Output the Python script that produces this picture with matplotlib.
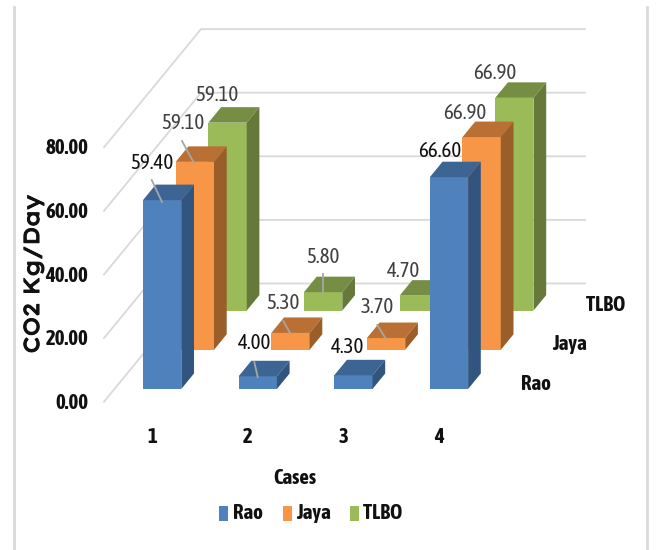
import matplotlib
matplotlib.use('Agg')
import matplotlib.pyplot as plt
import matplotlib.patheffects as pe
from matplotlib.patches import Polygon, Rectangle

cases = ['1', '2', '3', '4']
series = ['Rao', 'Jaya', 'TLBO']
rao = [59.40, 4.00, 4.30, 66.60]
jaya = [59.10, 5.30, 3.70, 66.90]
tlbo = [59.10, 5.80, 4.70, 66.90]
y_ticks = [0, 20, 40, 60, 80]

front = ['#4F81BD', '#F79646', '#9BBB59']
top = ['#3D6594', '#BA7035', '#758E44']
side = ['#325580', '#9A5E2B', '#66793A']
values = [rao, jaya, tlbo]

# oblique projection, in pixels of the 656x550 figure
BASE_X, BASE_Y = 143.0, 389.0
CASE_STEP = 95.6
ROW_DX, ROW_DY = 32.7, 39.2
BAR_W = 38.3
BAR_DX, BAR_DY = 12.7, 15.5
PX_PER_UNIT = 3.18

FONT = ['Asap Condensed', 'Lato', 'DejaVu Sans']
WIDE_FONT = ['Lexend Exa', 'DejaVu Sans']
DARK = '#111111'
GREY = '#404040'
GRID = '#d9d9d9'

fig = plt.figure(figsize=(6.56, 5.5), dpi=100)
ax = fig.add_axes([0, 0, 1, 1])
ax.set_xlim(0, 656)
ax.set_ylim(550, 0)
ax.axis('off')


def project(case, row, value):
    x = BASE_X + case * CASE_STEP + row * ROW_DX
    y = BASE_Y - row * ROW_DY - value * PX_PER_UNIT
    return x, y


def draw_bar(case, row, value):
    x, y0 = project(case, row, 0)
    _, y1 = project(case, row, value)
    ax.add_patch(Polygon([(x, y0), (x + BAR_W, y0), (x + BAR_W, y1), (x, y1)],
                         fc=front[row], ec='none', zorder=3))
    ax.add_patch(Polygon([(x, y1), (x + BAR_W, y1),
                          (x + BAR_W + BAR_DX, y1 - BAR_DY), (x + BAR_DX, y1 - BAR_DY)],
                         fc=top[row], ec='none', zorder=3))
    ax.add_patch(Polygon([(x + BAR_W, y0), (x + BAR_W + BAR_DX, y0 - BAR_DY),
                          (x + BAR_W + BAR_DX, y1 - BAR_DY), (x + BAR_W, y1)],
                         fc=side[row], ec='none', zorder=3))


# chart frame, sides only
ax.plot([14, 14], [7, 550], color='#d9d9d9', lw=2, zorder=1)
ax.plot([647, 647], [7, 550], color='#d9d9d9', lw=2, zorder=1)

# side wall and back wall grid
for t in y_ticks:
    y_front = 401.7 - t * PX_PER_UNIT
    y_back = 283.5 - t * PX_PER_UNIT
    ax.plot([104, 201, 585], [y_front, y_back, y_back], color=GRID, lw=1.3, zorder=1)
    ax.text(88, y_front + 1, '%.2f' % t, ha='right', va='center', family=FONT,
            fontsize=15, fontweight='bold', color=DARK)

# back row first so nearer bars cover it
for row in [2, 1, 0]:
    for case in range(len(cases)):
        draw_bar(case, row, values[row][case])

# value labels, Rao row in darker text
label_pos = [
    [(152, 163), (254.5, 343), (348, 347), (440, 151)],
    [(183, 123), (283, 303), (377.5, 307), (465, 113)],
    [(217, 95), (323, 257), (404, 271), (494.7, 73)],
]
for row in range(3):
    for case in range(4):
        px, py = label_pos[row][case]
        ax.text(px, py, '%.2f' % values[row][case], ha='center', va='center',
                family=FONT, fontsize=15, color=DARK if row == 0 else GREY, zorder=6)

# leader lines
leaders = [
    ((151.7, 180), (162, 202)), ((182, 141), (194, 163)),
    ((254.3, 362), (257.7, 377)), ((283.3, 321), (290, 333)),
    ((323.3, 274), (323.3, 292)), ((377.3, 325), (386, 339)),
]
for a, b in leaders:
    ax.plot([a[0], b[0]], [a[1], b[1]], color='#a6a6a6', lw=1.3, zorder=5)

# case and row labels
for i, c in enumerate(cases):
    ax.text(152.5 + i * 95.5, 437, c, ha='center', va='center', family=FONT,
            fontsize=15, fontweight='bold', color=DARK)
row_label_pos = [(536, 384), (570, 344), (606, 305)]
for name, (px, py) in zip(series, row_label_pos):
    ax.text(px, py, name, ha='center', va='center', family=FONT,
            fontsize=15, fontweight='bold', color=DARK)

ax.text(295, 478, 'Cases', ha='center', va='center', family=FONT,
        fontsize=15, fontweight='bold', color=DARK)
ax.text(33, 274, 'CO2 Kg/Day', ha='center', va='center', rotation=90,
        family=WIDE_FONT, fontsize=15.5, fontweight='bold', color=DARK,
        path_effects=[pe.withStroke(linewidth=0.8, foreground=DARK)])

# legend
legend_x = [(219, 232.5), (282.5, 296), (350, 363)]
for i, (sx, tx) in enumerate(legend_x):
    ax.add_patch(Rectangle((sx, 506), 9, 15, fc=front[i], ec='none'))
    ax.text(tx, 513, series[i], ha='left', va='center', family=FONT,
            fontsize=15, fontweight='bold', color=DARK)

fig.savefig('out.png', dpi=100)
